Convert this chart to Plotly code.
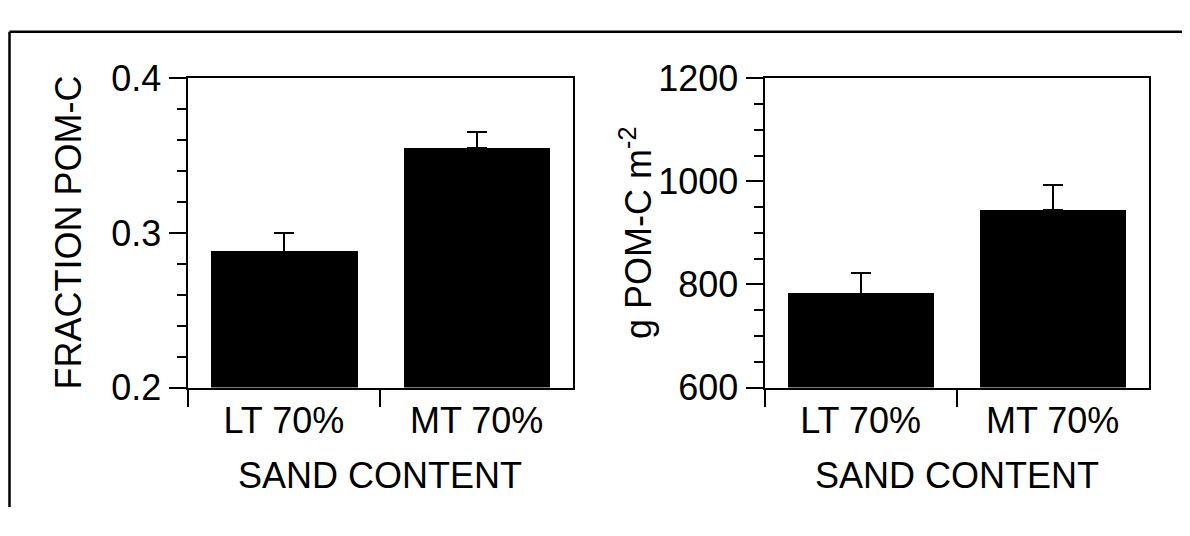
import plotly.graph_objects as go

# ---- data ----
categories = ["LT 70%", "MT 70%"]
fraction_pom = [0.288, 0.355]
fraction_err = [0.012, 0.010]
gpom = [782, 944]
gpom_err = [40, 50]
left_ticks = [0.2, 0.3, 0.4]
left_ticktext = ["0.2", "0.3", "0.4"]
right_ticks = [600, 800, 1000, 1200]
right_ticktext = ["600", "800", "1000", "1200"]

# the page body has an 8px margin; keep the figure inside the 1190x536 window
OFF = 8
W, H = 1190 - 2 * OFF, 536 - 2 * OFF
FONT = "Liberation Sans, Arial, Helvetica, sans-serif"


def px(x):
    return (x - OFF) / W


def py(y):
    return 1 - (y - OFF) / H


fig = go.Figure()

fig.add_trace(go.Bar(
    x=categories, y=fraction_pom, width=0.76,
    marker=dict(color="black", line=dict(width=0)),
    error_y=dict(type="data", symmetric=False, array=fraction_err,
                 arrayminus=[0] * len(fraction_err),
                 color="black", thickness=2, width=10),
    xaxis="x", yaxis="y", showlegend=False))

fig.add_trace(go.Bar(
    x=categories, y=gpom, width=0.76,
    marker=dict(color="black", line=dict(width=0)),
    error_y=dict(type="data", symmetric=False, array=gpom_err,
                 arrayminus=[0] * len(gpom_err),
                 color="black", thickness=2, width=10),
    xaxis="x2", yaxis="y2", showlegend=False))

ydom = [py(398.3), py(62.7)]
x1dom = [px(187.5), px(573)]
x2dom = [px(764.5), px(1148.7)]

xcommon = dict(type="category", tickson="boundaries", ticks="outside",
               ticklen=17, tickwidth=2, tickcolor="black",
               showline=True, linecolor="black", linewidth=2, mirror=True,
               showgrid=False, zeroline=False, range=[-0.5, 1.5],
               tickfont=dict(family=FONT, size=36, color="black"),
               fixedrange=True)

ycommon = dict(ticks="outside", ticklen=17, tickwidth=2, tickcolor="black",
               showline=True, linecolor="black", linewidth=2, mirror=True,
               showgrid=False, zeroline=False,
               tickfont=dict(family=FONT, size=36, color="black"),
               domain=ydom, fixedrange=True)

fig.update_layout(
    width=W, height=H,
    margin=dict(l=0, r=0, t=0, b=0),
    paper_bgcolor="white", plot_bgcolor="white",
    bargap=0,
    xaxis=dict(domain=x1dom, anchor="y", **xcommon),
    yaxis=dict(anchor="x", range=[0.2, 0.4], tickmode="array",
               tickvals=left_ticks, ticktext=left_ticktext,
               minor=dict(ticks="outside", ticklen=9, tickwidth=2,
                          tickcolor="black", dtick=0.02, tick0=0.2,
                          showgrid=False),
               **ycommon),
    xaxis2=dict(domain=x2dom, anchor="y2", **xcommon),
    yaxis2=dict(anchor="x2", range=[600, 1200], tickmode="array",
                tickvals=right_ticks, ticktext=right_ticktext,
                minor=dict(ticks="outside", ticklen=9, tickwidth=2,
                           tickcolor="black", dtick=50, tick0=600,
                           showgrid=False),
                **ycommon),
)

tfont = dict(family=FONT, size=36, color="black")
ymid = (ydom[0] + ydom[1]) / 2
annotations = [
    dict(text="FRACTION POM-C", x=px(68.5), y=ymid, textangle=-90),
    dict(text="g POM-C m<sup>-2</sup>", x=px(636), y=ymid, textangle=-90),
    dict(text="SAND CONTENT", x=(x1dom[0] + x1dom[1]) / 2, y=py(494)),
    dict(text="SAND CONTENT", x=(x2dom[0] + x2dom[1]) / 2, y=py(494)),
]
for a in annotations:
    fig.add_annotation(xref="paper", yref="paper", showarrow=False,
                       xanchor="center", yanchor="middle", font=tfont, **a)

# outer frame (left and top edges visible)
fig.add_shape(type="line", xref="paper", yref="paper",
              x0=px(9.5), x1=px(9.5), y0=0, y1=py(12),
              line=dict(color="black", width=2.5))
fig.add_shape(type="line", xref="paper", yref="paper",
              x0=px(9.5), x1=1, y0=py(12), y1=py(12),
              line=dict(color="black", width=2.5))

fig.write_html("out.html")
